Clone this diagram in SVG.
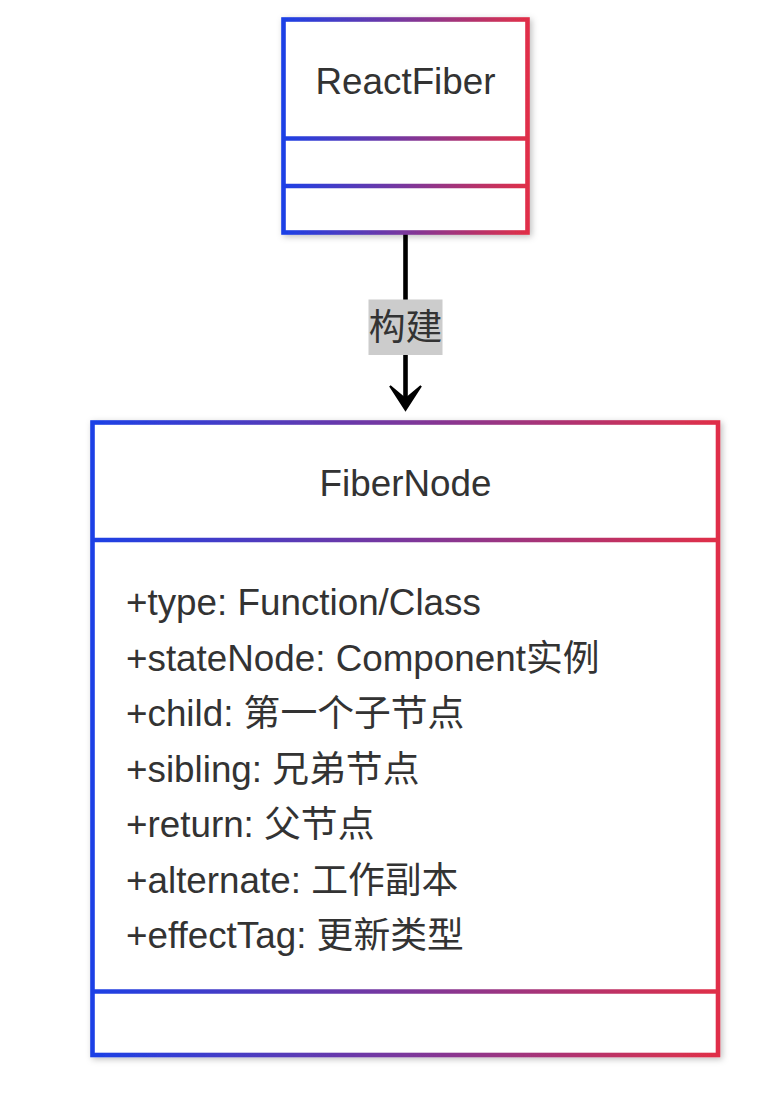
<svg xmlns="http://www.w3.org/2000/svg" width="763" height="1101" viewBox="0 0 763 1101">
<defs>
<linearGradient id="g1" gradientUnits="userSpaceOnUse" x1="283.5" y1="0" x2="527.5" y2="0">
<stop offset="0" stop-color="#1c40e6"/><stop offset="0.5" stop-color="#7b379c"/><stop offset="1" stop-color="#e02f48"/>
</linearGradient>
<linearGradient id="g2" gradientUnits="userSpaceOnUse" x1="92.5" y1="0" x2="718" y2="0">
<stop offset="0" stop-color="#1c40e6"/><stop offset="0.5" stop-color="#7b379c"/><stop offset="1" stop-color="#e02f48"/>
</linearGradient>
<filter id="sh" x="-10%" y="-10%" width="120%" height="120%">
<feDropShadow dx="2" dy="2" stdDeviation="3" flood-color="#000" flood-opacity="0.25"/>
</filter>
</defs>
<style>
text{font-family:"Liberation Sans","Noto Sans CJK SC",Arial,sans-serif;font-size:36.8px;fill:#333}
.title{text-anchor:middle}
.box{fill:#fff;stroke-width:4.6}
.div{stroke-width:4.6}
.edge{stroke:#000;stroke-width:4.6;fill:none}
</style>
<rect width="763" height="1101" fill="#fff"/>
<g id="connectors">
<line class="edge" x1="405.5" y1="234" x2="405.5" y2="300"/>
<line class="edge" x1="405.5" y1="354" x2="405.5" y2="404"/>
<path d="M390,386 L405.5,410 L421,386 L405.5,399 Z" fill="#000" stroke="#000" stroke-width="2" stroke-linejoin="miter"/>
<rect x="368.5" y="299.5" width="74" height="55.5" fill="#cccccc"/>
<text x="405.5" y="340" class="title">构建</text>
</g>
<g id="ReactFiber">
<rect class="box" x="283.5" y="19.5" width="244" height="213" stroke="url(#g1)" filter="url(#sh)"/>
<line class="div" x1="283.5" y1="138.5" x2="527.5" y2="138.5" stroke="url(#g1)"/>
<line class="div" x1="283.5" y1="186" x2="527.5" y2="186" stroke="url(#g1)"/>
<text x="405.5" y="94" class="title">ReactFiber</text>
</g>
<g id="FiberNode">
<rect class="box" x="92.5" y="422.5" width="625.5" height="632.5" stroke="url(#g2)" filter="url(#sh)"/>
<line class="div" x1="92.5" y1="540" x2="718" y2="540" stroke="url(#g2)"/>
<line class="div" x1="92.5" y1="991.5" x2="718" y2="991.5" stroke="url(#g2)"/>
<text x="405.5" y="496" class="title">FiberNode</text>
<text x="126" y="615">+type: Function/Class</text>
<text x="126" y="670.5">+stateNode: Component实例</text>
<text x="126" y="726">+child: 第一个子节点</text>
<text x="126" y="781.5">+sibling: 兄弟节点</text>
<text x="126" y="837">+return: 父节点</text>
<text x="126" y="892.5">+alternate: 工作副本</text>
<text x="126" y="948">+effectTag: 更新类型</text>
</g>
</svg>
